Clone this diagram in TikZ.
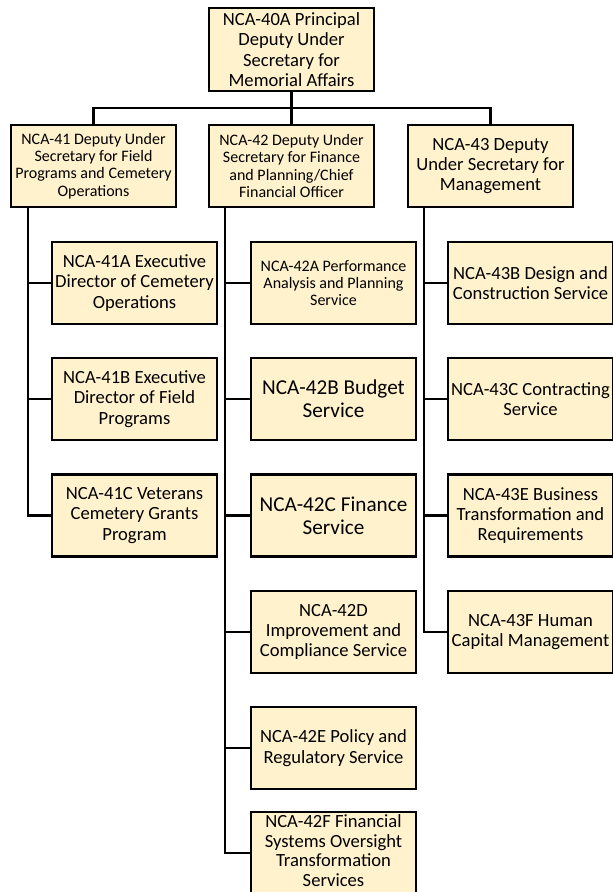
\documentclass[tikz,border=0pt]{standalone}
\usepackage{fontspec}
\setmainfont{Carlito}
\definecolor{boxfill}{HTML}{FFF2CC}
\tikzset{
  orgbox/.style={draw=black, line width=2.5pt, fill=boxfill, rectangle,
    minimum width=165pt, minimum height=82pt, inner sep=0pt, align=center,
    font=\fontsize{18.6}{20.3}\selectfont},
  smalltext/.style={font=\fontsize{16}{17.4}\selectfont},
  bigtext/.style={font=\fontsize{21.2}{23}\selectfont},
  tighttext/.style={font=\fontsize{18.6}{19.6}\selectfont, text depth=5pt},
  link/.style={draw=black, line width=2.7pt}
}
\begin{document}
\begin{tikzpicture}[x=1pt,y=-1pt]
\useasboundingbox (0,0) rectangle (613,892);
% top
\node[orgbox, minimum height=83pt] (top) at (291.5,49.5) {NCA-40A Principal\\Deputy Under\\Secretary for\\Memorial Affairs};
% level 2
\node[orgbox, smalltext] (n41) at (93.5,166) {NCA-41 Deputy Under\\Secretary for Field\\Programs and Cemetery\\Operations};
\node[orgbox, smalltext] (n42) at (291.5,166) {NCA-42 Deputy Under\\Secretary for Finance\\and Planning/Chief\\Financial Officer};
\node[orgbox] (n43) at (490.5,166) {NCA-43 Deputy\\Under Secretary for\\Management};
% column 1
\node[orgbox] (n41a) at (134.5,283) {NCA-41A Executive\\Director of Cemetery\\Operations};
\node[orgbox] (n41b) at (134.5,399) {NCA-41B Executive\\Director of Field\\Programs};
\node[orgbox] (n41c) at (134.5,515.5) {NCA-41C Veterans\\Cemetery Grants\\Program};
% column 2
\node[orgbox, smalltext] (n42a) at (333.5,283) {NCA-42A Performance\\Analysis and Planning\\Service};
\node[orgbox, bigtext] (n42b) at (333.5,399) {NCA-42B Budget\\Service};
\node[orgbox, bigtext] (n42c) at (333.5,515.5) {NCA-42C Finance\\Service};
\node[orgbox] (n42d) at (333.5,632) {NCA-42D\\Improvement and\\Compliance Service};
\node[orgbox] (n42e) at (333.5,748) {NCA-42E Policy and\\Regulatory Service};
\node[orgbox, tighttext] (n42f) at (333.5,853) {NCA-42F Financial\\Systems Oversight\\Transformation\\Services};
% column 3
\node[orgbox] (n43b) at (530.5,283) {NCA-43B Design and\\Construction Service};
\node[orgbox] (n43c) at (530.5,399) {NCA-43C Contracting\\Service};
\node[orgbox] (n43e) at (530.5,515.5) {NCA-43E Business\\Transformation and\\Requirements};
\node[orgbox] (n43f) at (530.5,632) {NCA-43F Human\\Capital Management};
% helper coordinates
\coordinate (bus) at (0,108);
\coordinate (s1) at (28,0);
\coordinate (s2) at (225,0);
\coordinate (s3) at (424,0);
% top-level connectors
\draw[link] (top.south) -- (n42.north);
\draw[link] (n41.north) -- (n41.north |- bus) -- (n43.north |- bus) -- (n43.north);
% spines and stubs
\draw[link] (s1 |- n41.south) |- (n41a.west);
\draw[link] (s1 |- n41.south) |- (n41b.west);
\draw[link] (s1 |- n41.south) |- (n41c.west);
\draw[link] (s2 |- n42.south) |- (n42a.west);
\draw[link] (s2 |- n42.south) |- (n42b.west);
\draw[link] (s2 |- n42.south) |- (n42c.west);
\draw[link] (s2 |- n42.south) |- (n42d.west);
\draw[link] (s2 |- n42.south) |- (n42e.west);
\draw[link] (s2 |- n42.south) |- (n42f.west);
\draw[link] (s3 |- n43.south) |- (n43b.west);
\draw[link] (s3 |- n43.south) |- (n43c.west);
\draw[link] (s3 |- n43.south) |- (n43e.west);
\draw[link] (s3 |- n43.south) |- (n43f.west);
\end{tikzpicture}
\end{document}
